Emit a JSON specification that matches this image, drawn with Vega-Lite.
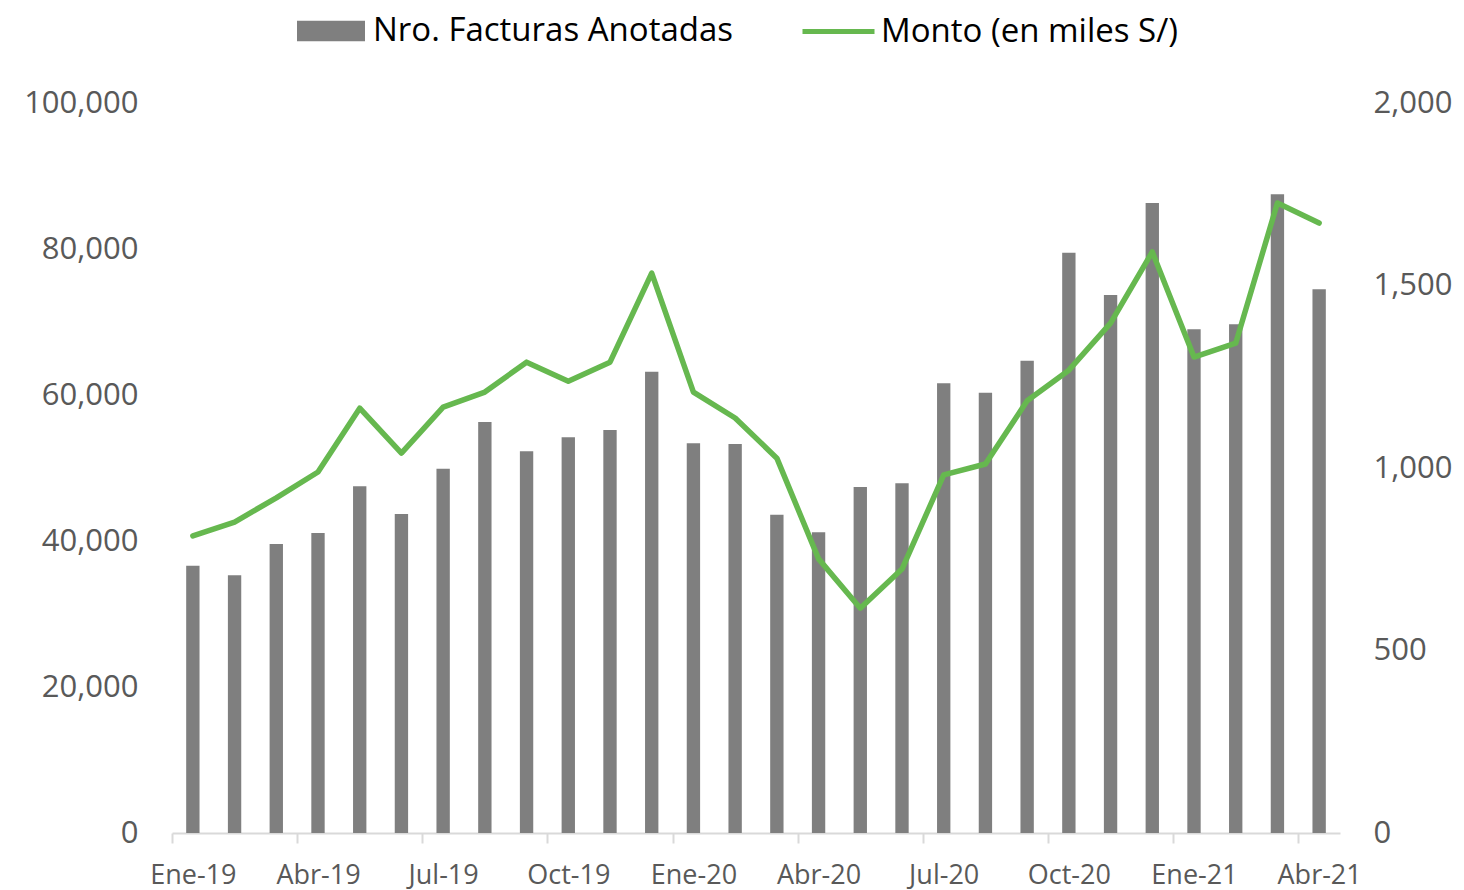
{
  "$schema": "https://vega.github.io/schema/vega-lite/v6.json",
  "width": 1168,
  "height": 730,
  "autosize": {"type": "none"},
  "padding": {"left": 172, "top": 103, "right": 124, "bottom": 57},
  "background": "#ffffff",
  "config": {"view": {"stroke": null}, "font": "Open Sans"},
  "data": {
    "values": [
      {"mes": "Ene-19", "facturas": 36600, "monto": 814},
      {"mes": "Feb-19", "facturas": 35300, "monto": 852},
      {"mes": "Mar-19", "facturas": 39600, "monto": 918},
      {"mes": "Abr-19", "facturas": 41100, "monto": 989},
      {"mes": "May-19", "facturas": 47500, "monto": 1164},
      {"mes": "Jun-19", "facturas": 43700, "monto": 1041},
      {"mes": "Jul-19", "facturas": 49900, "monto": 1167},
      {"mes": "Ago-19", "facturas": 56300, "monto": 1208},
      {"mes": "Set-19", "facturas": 52300, "monto": 1290},
      {"mes": "Oct-19", "facturas": 54200, "monto": 1238},
      {"mes": "Nov-19", "facturas": 55200, "monto": 1290},
      {"mes": "Dic-19", "facturas": 63200, "monto": 1534},
      {"mes": "Ene-20", "facturas": 53400, "monto": 1208},
      {"mes": "Feb-20", "facturas": 53300, "monto": 1137},
      {"mes": "Mar-20", "facturas": 43600, "monto": 1027},
      {"mes": "Abr-20", "facturas": 41200, "monto": 751},
      {"mes": "May-20", "facturas": 47400, "monto": 616},
      {"mes": "Jun-20", "facturas": 47900, "monto": 723},
      {"mes": "Jul-20", "facturas": 61600, "monto": 981},
      {"mes": "Ago-20", "facturas": 60300, "monto": 1011},
      {"mes": "Set-20", "facturas": 64700, "monto": 1184},
      {"mes": "Oct-20", "facturas": 79500, "monto": 1268},
      {"mes": "Nov-20", "facturas": 73700, "monto": 1397},
      {"mes": "Dic-20", "facturas": 86300, "monto": 1592},
      {"mes": "Ene-21", "facturas": 69000, "monto": 1304},
      {"mes": "Feb-21", "facturas": 69700, "monto": 1342},
      {"mes": "Mar-21", "facturas": 87500, "monto": 1726},
      {"mes": "Abr-21", "facturas": 74500, "monto": 1671}
    ]
  },
  "encoding": {
    "x": {
      "field": "mes",
      "type": "ordinal",
      "sort": null,
      "scale": {"paddingInner": 0.68, "paddingOuter": 0.34},
      "axis": {
        "title": null,
        "values": ["Ene-19", "Abr-19", "Jul-19", "Oct-19", "Ene-20", "Abr-20", "Jul-20", "Oct-20", "Ene-21", "Abr-21"],
        "bandPosition": 0.5,
        "tickOffset": -20.857,
        "labelOffset": 20.857,
        "labelAngle": 0,
        "labelFontSize": 27,
        "labelColor": "#595959",
        "labelPadding": 19,
        "domainColor": "#d9d9d9",
        "domainWidth": 2,
        "tickColor": "#d9d9d9",
        "tickWidth": 2,
        "tickSize": 10,
        "grid": false
      }
    }
  },
  "layer": [
    {
      "mark": {"type": "bar", "color": "#7f7f7f"},
      "encoding": {
        "y": {
          "field": "facturas",
          "type": "quantitative",
          "scale": {"domain": [0, 100000]},
          "axis": {
            "title": null,
            "orient": "left",
            "values": [0, 20000, 40000, 60000, 80000, 100000],
            "format": ",.0f",
            "domain": false,
            "ticks": false,
            "grid": false,
            "labelFontSize": 31,
            "labelColor": "#595959",
            "labelPadding": 34
          }
        },
        "color": {
          "datum": "Nro. Facturas Anotadas",
          "type": "nominal",
          "scale": {"range": ["#7f7f7f"]},
          "legend": {
            "title": null,
            "orient": "none",
            "legendX": 125,
            "legendY": -106,
            "symbolType": "M-1,-0.3H1V0.3H-1Z",
            "symbolSize": 4624,
            "symbolStrokeWidth": 0,
            "labelFontSize": 33,
            "labelColor": "#000000",
            "labelLimit": 800,
            "labelOffset": 8
          }
        }
      }
    },
    {
      "mark": {"type": "line", "color": "#66b84f", "strokeWidth": 5.5, "strokeCap": "round", "strokeJoin": "round"},
      "encoding": {
        "y": {
          "field": "monto",
          "type": "quantitative",
          "scale": {"domain": [0, 2000]},
          "axis": {
            "title": null,
            "orient": "right",
            "values": [0, 500, 1000, 1500, 2000],
            "format": ",.0f",
            "domain": false,
            "ticks": false,
            "grid": false,
            "labelFontSize": 31,
            "labelColor": "#595959",
            "labelPadding": 33
          }
        },
        "color": {
          "datum": "Monto (en miles S/)",
          "type": "nominal",
          "scale": {"range": ["#66b84f"]},
          "legend": {
            "title": null,
            "orient": "none",
            "legendX": 628,
            "legendY": -110,
            "symbolType": "stroke",
            "symbolSize": 5184,
            "symbolStrokeWidth": 5,
            "labelFontSize": 33,
            "labelColor": "#000000",
            "labelLimit": 800,
            "labelOffset": 4
          }
        }
      }
    }
  ],
  "resolve": {"scale": {"y": "independent", "color": "independent"}}
}
